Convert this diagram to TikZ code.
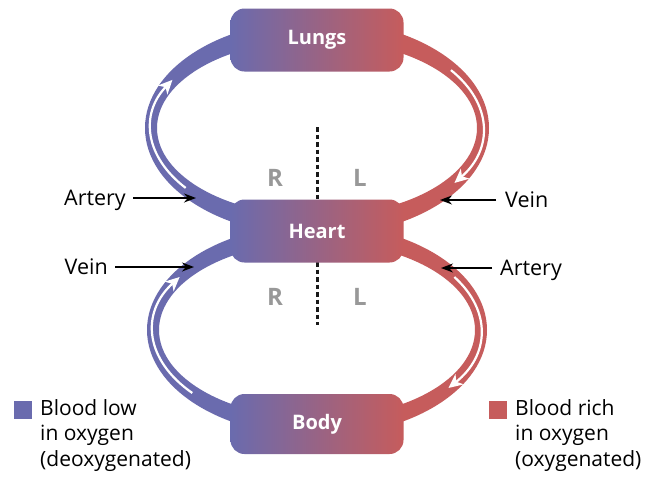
\documentclass[tikz,border=0pt]{standalone}
\usepackage{fontspec}
\setmainfont{Open Sans}
\usetikzlibrary{arrows.meta}
\definecolor{bblue}{RGB}{106,107,174}
\definecolor{bred}{RGB}{198,92,92}
\definecolor{rlgray}{RGB}{152,152,152}
\definecolor{dashc}{RGB}{25,25,25}
\begin{document}
\begin{tikzpicture}[x=1pt,y=-1pt,
  organ/.style={rounded corners=14pt, minimum width=173pt, minimum height=63pt,
    left color=bblue, right color=bred, text=white, inner sep=0pt,
    font=\fontsize{20}{23}\selectfont\bfseries},
  lbl/.style={inner sep=0pt, font=\fontsize{21.5}{25}\selectfont},
  rl/.style={inner sep=0pt, text=rlgray, font=\fontsize{24}{26}\selectfont\bfseries},
  blk/.style={draw=black, line width=1.4pt, -{Stealth[length=12pt,width=9pt]}},
  whitearr/.style={draw=white, line width=2.2pt, -{Stealth[length=14pt,width=13pt,inset=4pt]}},
  dashline/.style={draw=dashc, line width=3pt, dash pattern=on 4.5pt off 3pt},
  legsq/.style={minimum size=18pt, inner sep=0pt},
  legtxt/.style={inner sep=0pt, align=left, anchor=north west, font=\fontsize{21}{25.5}\selectfont}
]
\useasboundingbox (0,0) rectangle (659,477);
\fill[white] (0,0) rectangle (659,477);

% bands
\begin{scope}
  \clip (0,0) rectangle (317,477);
  \fill[bblue, even odd rule] (317,128) ellipse [x radius=172, y radius=108]
                              (317,128) ellipse [x radius=160, y radius=88];
  \fill[bblue, even odd rule] (317,330) ellipse [x radius=170, y radius=106]
                              (317,330) ellipse [x radius=158, y radius=88];
\end{scope}
\begin{scope}
  \clip (317,0) rectangle (659,477);
  \fill[bred, even odd rule] (317,128) ellipse [x radius=172, y radius=108]
                             (317,128) ellipse [x radius=160, y radius=88];
  \fill[bred, even odd rule] (317,330) ellipse [x radius=170, y radius=106]
                             (317,330) ellipse [x radius=158, y radius=88];
\end{scope}

% white flow arrows
\begin{scope}[shift={(317,128)}]
  \draw[whitearr] (-217.7:166 and 98) arc[start angle=-217.7, end angle=-150.6, x radius=166, y radius=98];
  \draw[whitearr] (-36.2:166 and 98) arc[start angle=-36.2, end angle=34.1, x radius=166, y radius=98];
\end{scope}
\begin{scope}[shift={(317,330)}]
  \draw[whitearr] (-220.5:164 and 97) arc[start angle=-220.5, end angle=-146.9, x radius=164, y radius=97];
  \draw[whitearr] (-33.1:164 and 97) arc[start angle=-33.1, end angle=36.7, x radius=164, y radius=97];
\end{scope}

% dashed septum
\coordinate (dtop) at (317,127);
\coordinate (dbot) at (317,325);
\draw[dashline] (dtop) -- (317,200);
\draw[dashline] (317,262) -- (dbot);

% organs
\node[organ] (lungs) at (317,40) {Lungs};
\node[organ] (heart) at (317,231) {Heart};
\node[organ, minimum height=60pt] (body) at (317,424) {Body};

% R / L
\node[rl] (r1) at (275,178) {R};
\node[rl] (l1) at (360,178) {L};
\node[rl] (r2) at (275,297) {R};
\node[rl] (l2) at (360,297) {L};

% labels with pointers
\node[lbl, anchor=base east] (art1) at (126,205) {Artery};
\coordinate (art1t) at (196,198);
\draw[blk] (art1.east |- art1t) ++(7,0) -- (art1t);

\node[lbl, anchor=base east] (vein1) at (108,274) {Vein};
\coordinate (vein1t) at (194,267);
\draw[blk] (vein1.east |- vein1t) ++(7,0) -- (vein1t);

\node[lbl, anchor=base west] (vein2) at (505,207) {Vein};
\coordinate (vein2t) at (440,200);
\draw[blk] (vein2.west |- vein2t) ++(-9,0) -- (vein2t);

\node[lbl, anchor=base west] (art2) at (500,275) {Artery};
\coordinate (art2t) at (441,268);
\draw[blk] (art2.west |- art2t) ++(-8,0) -- (art2t);

% legend
\node[legsq, fill=bblue] (sqb) at (23,410) {};
\node[legtxt] (txtb) at (40,399) {Blood low\\in oxygen\\(deoxygenated)};
\node[legsq, fill=bred] (sqr) at (498,410) {};
\node[legtxt] (txtr) at (515,399) {Blood rich\\in oxygen\\(oxygenated)};
\end{tikzpicture}
\end{document}
